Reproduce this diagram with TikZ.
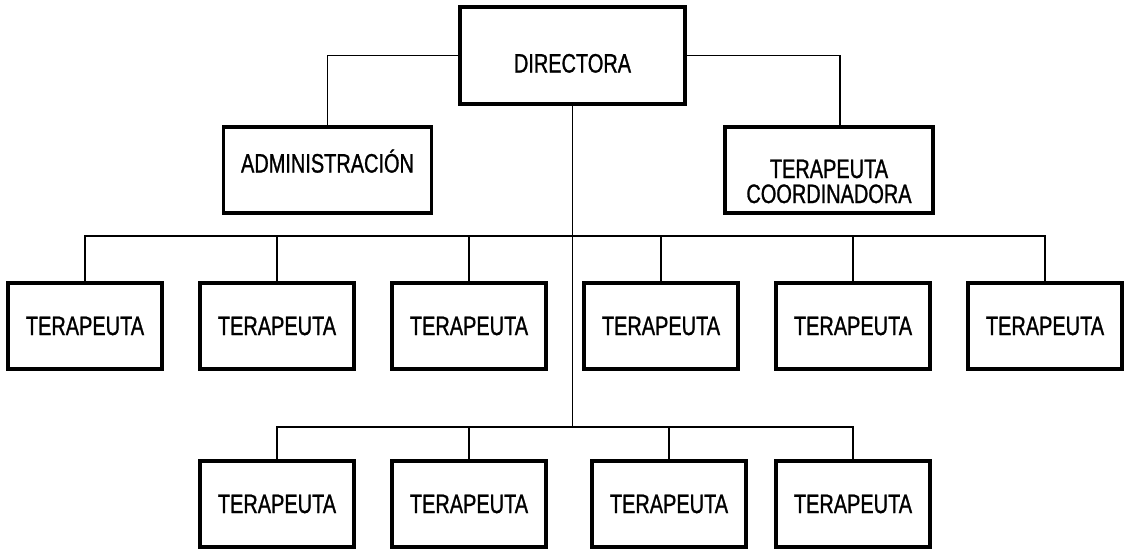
\documentclass[tikz,border=0pt]{standalone}
\usepackage{fontspec}
\setmainfont{Liberation Sans}[FakeStretch=0.75, FakeBold=1]
\usepackage{tikz}
\tikzstyle{jefe} = [rectangle, minimum width=112.5pt, minimum height=48.5pt, text centered, draw=black, line width=1.6pt]
\tikzstyle{area} = [rectangle, minimum width=104pt, minimum height=43pt, text centered, draw=black, line width=1.6pt]
\tikzstyle{terapeuta} = [rectangle, minimum width=77pt, minimum height=43pt, text centered, draw=black, line width=1.6pt]
\tikzstyle{linea} = [line width=0.7pt]

\begin{document}
\begin{tikzpicture}[node distance=96pt, font=\fontsize{13.3pt}{12.5pt}\selectfont]
	\useasboundingbox (0,0) rectangle (562.5pt,-274pt);
	\node (dir) [jefe, text height=17pt, text depth=0pt] at (286.25pt,-27.75pt) {DIRECTORA};
	\node (adm) [area, text height=9.5pt, text depth=7pt] at (163.75pt,-85pt) {ADMINISTRACIÓN};
	\node (coord) [area, align=center, text height=33pt, text depth=0pt] at (414.5pt,-85pt) {TERAPEUTA\\COORDINADORA};

	\node (t1) [terapeuta] at (42.5pt,-163pt) {TERAPEUTA};
	\node (t2) [terapeuta, right of=t1] {TERAPEUTA};
	\node (t3) [terapeuta, right of=t2] {TERAPEUTA};
	\node (t4) [terapeuta, right of=t3] {TERAPEUTA};
	\node (t5) [terapeuta, right of=t4] {TERAPEUTA};
	\node (t6) [terapeuta, right of=t5] {TERAPEUTA};

	\node (b1) [terapeuta, below of=t2, node distance=89pt] {TERAPEUTA};
	\node (b2) [terapeuta, below of=t3, node distance=89pt] {TERAPEUTA};
	\node (b3) [terapeuta, below of=t4, node distance=89pt, xshift=4pt] {TERAPEUTA};
	\node (b4) [terapeuta, below of=t5, node distance=89pt] {TERAPEUTA};

	\coordinate (fila1) at (0,-118pt);
	\coordinate (fila2) at (0,-213.5pt);

	\draw [linea] (dir.west) -| (adm.north);
	\draw [linea] (dir.east) -| ([xshift=5.5pt]coord.north);
	\draw [linea] (dir.south) -- (dir.south |- fila2);
	\draw [linea] (t1.north) |- (t6.north |- fila1) -- (t6.north);
	\foreach \n in {2,...,5}
		\draw [linea] (t\n.north) -- (t\n.north |- fila1);
	\draw [linea] (b1.north) |- (b4.north |- fila2) -- (b4.north);
	\foreach \n in {2,3}
		\draw [linea] (b\n.north) -- (b\n.north |- fila2);
\end{tikzpicture}
\end{document}
